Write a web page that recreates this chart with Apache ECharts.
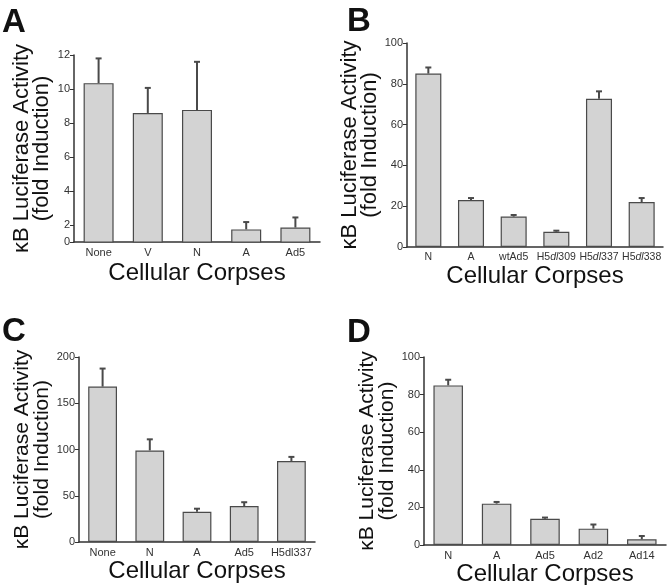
<!DOCTYPE html>
<html>
<head>
<meta charset="utf-8">
<script src="https://cdn.jsdelivr.net/npm/echarts@6/dist/echarts.min.js"></script>
<style>
  html, body { margin: 0; padding: 0; background: #fff; }
  #chart { width: 667px; height: 585px; }
</style>
</head>
<body>
<div id="chart"></div>
<script>
// panel A (the axis baseline is drawn as "0" in the original figure)
const catsA = ['None', 'V', 'N', 'A', 'Ad5']
const valsA = [10.35, 8.6, 8.78, 1.77, 1.88]
const errA = [1.45, 1.47, 2.82, 0.43, 0.59]
const tickValsA = [1.03, 2, 4, 6, 8, 10, 12]
const tickLabelsA = ['0', '2', '4', '6', '8', '10', '12']

// panel B
const catsB = ['N', 'A', 'wtAd5', 'H5dl309', 'H5dl337', 'H5dl338']
const valsB = [85, 23, 14.9, 7.5, 72.7, 22]
const errB = [3, 1, 0.8, 0.5, 3.6, 2]

// panel C
const catsC = ['None', 'N', 'A', 'Ad5', 'H5dl337']
const valsC = [168, 99, 32.6, 38.8, 87.6]
const errC = [19.5, 12, 3.4, 4.2, 4.4]

// panel D
const catsD = ['N', 'A', 'Ad5', 'Ad2', 'Ad14']
const valsD = [84.9, 22, 13.9, 8.7, 3.0]
const errD = [3, 0.9, 0.7, 2.2, 1.8]

const yName = 'κB Luciferase Activity\n(fold Induction)'
const xName = 'Cellular Corpses'
const font = '"Liberation Sans", Arial, sans-serif'
const axisColor = '#333'

const chart = echarts.init(document.getElementById('chart'))

function errRender(params, api) {
  const lo = api.coord([api.value(0), api.value(1)])
  const hi = api.coord([api.value(0), api.value(2)])
  const cap = 3
  const style = { stroke: '#4a4a4a', lineWidth: 2 }
  return {
    type: 'group',
    children: [
      { type: 'line', shape: { x1: lo[0], y1: lo[1], x2: hi[0], y2: hi[1] }, style },
      { type: 'line', shape: { x1: hi[0] - cap, y1: hi[1], x2: hi[0] + cap, y2: hi[1] }, style }
    ]
  }
}

function xAx(idx, cats, nameGap, italicDl, labelSize) {
  return {
    type: 'category',
    gridIndex: idx,
    data: cats,
    axisLine: { lineStyle: { color: axisColor, width: 1.5 } },
    axisTick: { show: false },
    axisLabel: {
      interval: 0,
      margin: 5,
      fontSize: labelSize,
      color: axisColor,
      fontFamily: font,
      formatter: italicDl ? (v) => v.replace('dl', '{i|dl}') : null,
      rich: { i: { fontStyle: 'italic', fontSize: labelSize, color: axisColor, fontFamily: font } }
    },
    name: xName,
    nameLocation: 'middle',
    nameGap: nameGap,
    nameTextStyle: { fontSize: 24, color: '#111', fontFamily: font }
  }
}

function yAx(idx, min, max, interval, nameGap, nameSize) {
  return {
    type: 'value',
    gridIndex: idx,
    min: min,
    max: max,
    interval: interval,
    splitLine: { show: false },
    axisLine: { show: true, lineStyle: { color: axisColor, width: 1.5 } },
    axisTick: { show: true, length: 4, lineStyle: { color: axisColor, width: 1 } },
    axisLabel: { margin: 4, fontSize: 11, color: axisColor, fontFamily: font },
    name: yName,
    nameLocation: 'middle',
    nameRotate: 90,
    nameGap: nameGap,
    nameTextStyle: { fontSize: nameSize, lineHeight: 20, color: '#111', fontFamily: font }
  }
}

const yA = yAx(0, 1.03, 12, null, 22, 22)
delete yA.interval
yA.axisTick.customValues = tickValsA
yA.axisLabel.customValues = tickValsA
yA.axisLabel.formatter = (v) => {
  let best = 0
  tickValsA.forEach((t, i) => { if (Math.abs(t - v) < Math.abs(tickValsA[best] - v)) best = i })
  return tickLabelsA[best]
}

function barSeries(idx, vals) {
  return {
    type: 'bar',
    xAxisIndex: idx,
    yAxisIndex: idx,
    data: vals,
    barWidth: '61%',
    itemStyle: { color: '#d3d3d3', borderColor: '#4a4a4a', borderWidth: 1.2 },
    silent: true
  }
}

function errSeries(idx, vals, errs) {
  return {
    type: 'custom',
    xAxisIndex: idx,
    yAxisIndex: idx,
    renderItem: errRender,
    data: vals.map((v, i) => [i, v, v + errs[i]]),
    z: 5,
    silent: true
  }
}

const letterStyle = { fontSize: 33, fontWeight: 'bold', color: '#111', fontFamily: font }

const option = {
  animation: false,
  backgroundColor: '#fff',
  title: [
    { text: 'A', left: 2, top: 6, textStyle: letterStyle, padding: 0 },
    { text: 'B', left: 347, top: 5, textStyle: letterStyle, padding: 0 },
    { text: 'C', left: 2, top: 315, textStyle: letterStyle, padding: 0 },
    { text: 'D', left: 347, top: 316, textStyle: letterStyle, padding: 0 }
  ],
  grid: [
    { left: 74, top: 55, width: 246, height: 187, outerBoundsMode: 'none' },
    { left: 407, top: 43, width: 256, height: 204, outerBoundsMode: 'none' },
    { left: 79, top: 357, width: 236, height: 185, outerBoundsMode: 'none' },
    { left: 424, top: 357, width: 242, height: 188, outerBoundsMode: 'none' }
  ],
  xAxis: [
    xAx(0, catsA, 19, false, 11),
    xAx(1, catsB, 13, true, 10.5),
    xAx(2, catsC, 17, false, 11),
    xAx(3, catsD, 11, false, 11)
  ],
  yAxis: [
    yA,
    yAx(1, 0, 100, 20, 24, 22),
    yAx(2, 0, 200, 50, 26, 21),
    yAx(3, 0, 100, 20, 24, 21)
  ],
  series: [
    barSeries(0, valsA), errSeries(0, valsA, errA),
    barSeries(1, valsB), errSeries(1, valsB, errB),
    barSeries(2, valsC), errSeries(2, valsC, errC),
    barSeries(3, valsD), errSeries(3, valsD, errD)
  ]
}

chart.setOption(option)
</script>
</body>
</html>
